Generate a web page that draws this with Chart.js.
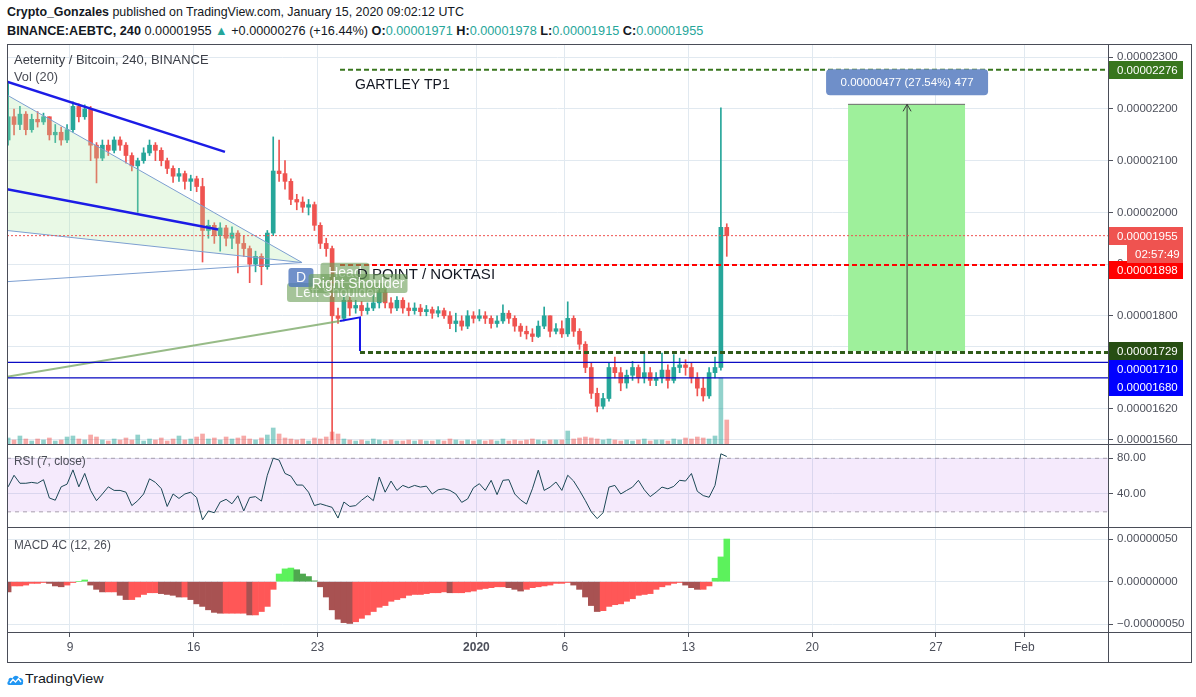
<!DOCTYPE html>
<html><head><meta charset="utf-8">
<script src="https://cdn.jsdelivr.net/npm/chart.js@4.4.1/dist/chart.umd.min.js"></script>
<style>
html,body{margin:0;padding:0;background:#fff;}
body{width:1196px;height:697px;position:relative;overflow:hidden;font-family:"Liberation Sans",Arial,sans-serif;color:#131722;}
.t{position:absolute;white-space:nowrap;transform-origin:0 50%;z-index:6;}
canvas{position:absolute;}
.ln{position:absolute;background:#4a4d58;z-index:5;}
.teal{color:#26a69a;}
</style></head><body>
<div class="t" id="h1" style="left:7px;top:4px;font-size:13px;"><b>Crypto_Gonzales</b> published on TradingView.com, January 15, 2020 09:02:12 UTC</div>
<div class="t" id="h2" style="left:7px;top:23px;font-size:13px;"><b>BINANCE:AEBTC, 240</b> 0.00001955 <span class="teal">▲</span> +0.00000276 (+16.44%) <b>O:</b><span class="teal">0.00001971</span> <b>H:</b><span class="teal">0.00001978</span> <b>L:</b><span class="teal">0.00001915</span> <b>C:</b><span class="teal">0.00001955</span></div>
<canvas id="cPrice" width="1185" height="400" style="left:7px;top:44px"></canvas>
<canvas id="cRsi" width="1185" height="83" style="left:7px;top:444px"></canvas>
<canvas id="cMacd" width="1185" height="135" style="left:7px;top:527px"></canvas>
<div class="t" id="lg1" style="left:14px;top:53px;font-size:12.5px;color:#3b3e47;">Aeternity / Bitcoin, 240, BINANCE</div>
<div class="t" id="lg2" style="left:14px;top:70px;font-size:12.5px;color:#4a4d56;">Vol (20)</div>
<div class="t" id="lg3" style="left:14px;top:454px;font-size:12.5px;color:#4a4d56;">RSI (7, close)</div>
<div class="t" id="lg4" style="left:14px;top:538px;font-size:12.5px;color:#4a4d56;">MACD 4C (12, 26)</div>
<div class="ln" style="left:7px;top:44px;width:1185px;height:1px"></div>
<div class="ln" style="left:7px;top:444px;width:1185px;height:1px"></div>
<div class="ln" style="left:7px;top:527px;width:1185px;height:1px"></div>
<div class="ln" style="left:7px;top:632px;width:1185px;height:1px"></div>
<div class="ln" style="left:7px;top:662px;width:1185px;height:1px"></div>
<div class="ln" style="left:7px;top:44px;width:1px;height:619px"></div>
<div class="ln" style="left:1108px;top:44px;width:1px;height:619px"></div>
<div class="ln" style="left:1191px;top:44px;width:1px;height:619px"></div>
<svg width="17" height="15" viewBox="0 0 17 15" style="position:absolute;left:7px;top:671px">
<path d="M2 14 C0 14 0 11 1.5 10 C1 7 4 6 5.5 7.5 C6.5 4 11 4 12 7 C15 6.5 17 9 16 11.5 C16.5 13 15.5 14 14 14 Z" fill="#2196f3"/>
<polyline points="3,12 6,8.5 8.5,11 11.5,7.5 14,11" fill="none" stroke="#fff" stroke-width="1.3"/>
</svg>
<div class="t" id="ft" style="left:25px;top:671px;font-size:13px;color:#131722;">TradingView</div>
<script>
// ---------- DATA (prices in units of 1e-8 BTC) ----------
const candleStartDay = 4.5;          // days after 2019-12-01 00:00 UTC
const candleStepDays = 8 / 24;       // one candle = 8 hours
const firstOpen = 2140;
const close = [2185,2170,2190,2160,2180,2175,2185,2150,2155,2140,
  2160,2205,2185,2200,2130,2105,2130,2120,2140,2130,
  2110,2090,2100,2115,2130,2120,2100,2085,2070,2075,
  2060,2065,2050,1965,1975,1955,1970,1950,1960,1940,
  1930,1900,1915,1895,1960,2080,2075,2060,2025,2020,
  2010,2015,1975,1940,1930,1800,1795,1830,1815,1820,
  1810,1815,1825,1845,1825,1815,1830,1815,1810,1815,
  1808,1812,1805,1810,1800,1785,1790,1780,1800,1795,
  1800,1795,1785,1790,1805,1795,1780,1770,1765,1760,
  1780,1800,1770,1775,1765,1795,1770,1745,1700,1650,
  1625,1640,1700,1690,1670,1685,1700,1680,1690,1675,
  1680,1695,1675,1700,1705,1700,1680,1660,1645,1690,
  1700,1971,1955];
const high = [2253,2200,2205,2195,2190,2195,2192,2185,2170,2165,
  2170,2214,2210,2208,2205,2135,2140,2140,2146,2146,
  2135,2115,2105,2125,2140,2135,2125,2105,2090,2085,
  2080,2072,2070,2066,1985,1980,1980,1975,1972,1965,
  1955,1935,1925,1920,1965,2146,2140,2100,2065,2035,
  2030,2025,2020,1980,1950,1935,1815,1840,1837,1830,
  1828,1825,1840,1852,1850,1835,1837,1835,1825,1825,
  1822,1820,1817,1818,1815,1808,1805,1800,1810,1808,
  1812,1808,1800,1800,1821,1810,1800,1785,1780,1775,
  1790,1817,1800,1785,1790,1827,1800,1775,1750,1710,
  1660,1650,1710,1720,1700,1695,1712,1705,1728,1700,
  1690,1728,1705,1725,1718,1715,1710,1690,1680,1700,
  1720,2202,1978];
const low = [2130,2150,2160,2150,2155,2165,2170,2140,2135,2130,
  2135,2155,2175,2180,2100,2057,2100,2110,2115,2120,
  2095,2080,2000,2095,2110,2100,2090,2075,2058,2060,
  2045,2042,2040,1904,1950,1940,1925,1935,1930,1883,
  1915,1864,1885,1860,1890,1955,2060,2045,2015,2005,
  2000,1995,1965,1930,1915,1560,1785,1790,1800,1805,
  1800,1803,1810,1815,1815,1805,1810,1805,1800,1803,
  1800,1800,1795,1798,1795,1775,1769,1772,1775,1786,
  1790,1785,1776,1778,1785,1785,1770,1760,1755,1750,
  1758,1775,1759,1765,1758,1760,1760,1735,1690,1640,
  1614,1620,1635,1680,1655,1660,1675,1670,1670,1665,
  1665,1670,1660,1670,1690,1685,1670,1645,1635,1640,
  1680,1695,1915];
const volume = [6,4,8,5,3,5,4,6,3,4,7, 8,5,4,9,7,4,3,5,4,6,
  4,9,3,5,4,6,3,5,8,4,5,7, 10,5,6,4,7,5,6,8,5,4,6,
  9,16,10,6,5,4,5,3,6,5,7, 12,10,5,4,3,4,3,5,4,3,4,3,
  3,4,3,4,3,3,4,3,5,4,3,4,3,4, 3,4,3,5,3,4,3,4,5,4,3,4,4,4,13,5,
  6,7,6,5,4,5,4,3,4,3,4,5,3,4, 4,3,5,4,6,5,7,6,5,8, 66,24];
const rsi = [48,61,52,52,53,52,56,35.5,33,48,
  51,67,48,63,44,32.5,40,48,44,44,
  42,27,32.5,40,57,53,46,26,40,35,
  40,42,36,11,21,19,31,34,29,38,
  21,36,37,32,61,80,78,63,60,50,
  50,42,27,29,27,25,13,31,26,27,
  33,38,32.5,59,42,54.5,44,49.6,47,49.6,
  47.7,48.8,40,44.7,45.8,44,40,30.6,34.4,47,
  51.5,44,55.3,39.3,55.3,56,40,33.3,28.7,45.8,
  66.7,44,47.7,53.4,44,61,54.5,44,32.5,20,
  12.4,19,47.7,49.6,40,44,47.7,55.3,44.7,37,
  42,47.7,45.8,48.5,55.3,54.5,62.9,43,38.2,36.3,
  49.6,85,82];
const macdHist = [-12,-5,-5,-4,-2,-2,-1,-2,-5,-6,
  -4,-1,0,2,-4,-9,-12,-12,-12,-16,
  -21,-21,-18,-15,-13,-13,-14,-15,-16,-18,
  -18,-21,-26,-29,-33,-36,-37,-37,-37,-37,
  -37,-39,-39,-35,-29,-9,9,15,16,14,
  9,6,1,-6,-18,-33,-44,-48,-49,-47,
  -43,-39,-35,-30,-28,-23,-21,-19,-16,-15,
  -15,-14,-13,-13,-12,-13,-13,-13,-12,-11,
  -9,-8,-7,-6,-6,-7,-9,-11,-9,-7,
  -6,-5,-4,-2,-2,-1,-4,-9,-18,-28,
  -35,-34,-29,-27,-26,-23,-20,-16,-15,-14,
  -9,-6,-4,-2,-1,-4,-7,-9,-9,-5,
  4,29,50];
const dayTicks = [8,15,22,31,36,43,50,57,62];
const dayTickLabels = ['9','16','23','2020','6','13','20','27','Feb'];
const priceTicks = [2300,2200,2100,2000,1900,1800,1740,1680,1620,1560];
const rsiTicks = [80,40];
const macdTicks = [50,0,-50];

// ---------- DRAWINGS (data coordinates: [day, price]) ----------
const wedgeLines = [[[4.435,2253],[16.77,2117]], [[4.435,2045],[16.38,1967]]];
const thinLines = [[[4.435,2227],[21.13,1903]], [[4.435,1965],[21.13,1903]], [[4.435,1866],[21.13,1903]]];
const triangleFill = [[4.435,2227],[21.13,1903],[4.435,1965]];
const neckline = [[4.435,1682],[23.28,1790]];
const bluePath = [[23.28,1790],[24.41,1797],[24.41,1732]];
const hLines = [
  {price:2276, from:23.28, color:'#38761d', width:2, dash:[5,3]},
  {price:1898, from:23.28, color:'#ff0000', width:2, dash:[5,3]},
  {price:1729, from:24.41, color:'#2f5a18', width:3, dash:[5,3]},
  {price:1710, from:null, color:'#0b0bc4', width:1.2, dash:[]},
  {price:1680, from:null, color:'#0b0bc4', width:1.2, dash:[]},
  {price:1955, from:null, color:'#ef5350', width:1, dash:[2,2]}
];
const longPos = {from:52.03, to:58.65, arrowDay:55.37, entry:1732, target:2209, label:'0.00000477 (27.54%) 477'};
const texts = [{text:'GARTLEY TP1', day:24.13, price:2238, size:14}];
const dPointText = {text:'D POINT / NOKTASI', day:24.24, price:1872, size:15};
const tagsBack = [
  {text:'Left Shoulder', day:23.11, price:1845, w:100, fill:'rgba(110,160,90,0.62)'},
  {text:'Head', day:23.56, price:1884, w:49, fill:'rgba(110,160,90,0.62)'}
];
const tagsFront = [
  {text:'D', day:21.07, price:1874, w:25, fill:'rgba(80,120,190,0.82)'},
  {text:'Right Shoulder', day:24.3, price:1862.5, w:99, fill:'rgba(110,160,90,0.62)'}
];
const axisTags = [
  {price:2276, bg:'#38761d', dy:0},
  {price:1955, bg:'#ef5350', dy:0},
  {price:1898, bg:'#ff0000', dy:5},
  {price:1729, bg:'#274e13', dy:-1},
  {price:1710, bg:'#0000ff', dy:7},
  {price:1680, bg:'#0000ff', dy:9}
];
const countdown = '02:57:49';

// ---------- SETUP ----------
const X_MIN = 4.435, X_MAX = 66.74;
const GRID = '#e1e9f0', AXIS_TXT = '#4c4f5a', TICKC = '#50535e';
const FONT = '"Liberation Sans", Arial, sans-serif';
const UP = '#26a69a', DN = '#ef5350';
Chart.defaults.font.family = FONT;
const fmt8 = v => (v < 0 ? '\u2212' : '') + (Math.abs(v) / 1e8).toFixed(8);

const days = close.map((_, i) => candleStartDay + i * candleStepDays);
const open = close.map((c, i) => i ? close[i - 1] : firstOpen);
const up = close.map((c, i) => c >= open[i]);

function xScale(show){
  return {type:'linear', min:X_MIN, max:X_MAX, offset:false, bounds:'data',
    afterBuildTicks: s => { s.ticks = dayTicks.map(v => ({value:v})); },
    afterFit: s => { s.height = show ? 30 : 0; s.paddingLeft = 0; s.paddingRight = 0; },
    grid:{color:GRID, offset:false, drawTicks:show, tickLength:5, tickColor:TICKC},
    border:{display:false},
    ticks:{display:show, autoSkip:false, maxRotation:0, padding:3, color:AXIS_TXT,
      font: c => ({family:FONT, size:12, weight: dayTickLabels[c.index] === '2020' ? 'bold' : 'normal'}),
      callback: (v, i) => dayTickLabels[i]}
  };
}
function yScale(min, max, ticks, fmt){
  return {type:'linear', position:'right', min, max, bounds:'data',
    afterBuildTicks: s => { s.ticks = ticks.map(v => ({value:v})); },
    afterFit: s => { s.width = 84; s.paddingTop = 0; s.paddingBottom = 0; },
    grid:{color:GRID, drawTicks:true, tickLength:5, tickColor:TICKC},
    border:{display:false},
    ticks:{padding:4, color:AXIS_TXT, font:{family:FONT, size:11.5}, callback: v => fmt(v)}
  };
}
function stroke(ctx, pts, color, width, dash){
  ctx.beginPath(); ctx.strokeStyle = color; ctx.lineWidth = width; ctx.setLineDash(dash || []);
  pts.forEach((p, i) => i ? ctx.lineTo(p[0], p[1]) : ctx.moveTo(p[0], p[1]));
  ctx.stroke(); ctx.setLineDash([]);
}
function rrect(ctx, x, y, w, h, r){
  ctx.beginPath();
  if (ctx.roundRect) ctx.roundRect(x, y, w, h, r); else ctx.rect(x, y, w, h);
}
function drawTag(ctx, X, Y, t){
  const cx = X(t.day), cy = Y(t.price), h = 19;
  rrect(ctx, cx - t.w / 2, cy - h / 2, t.w, h, 3); ctx.fillStyle = t.fill; ctx.fill();
  ctx.fillStyle = 'rgba(255,255,255,0.95)'; ctx.font = '14px ' + FONT;
  ctx.textAlign = 'center'; ctx.textBaseline = 'middle'; ctx.fillText(t.text, cx, cy + 1);
}

const pricePlugin = {
  id:'priceDrawings',
  afterDatasetsDraw(chart){
    const {ctx, chartArea:a, scales:{x, y}} = chart;
    const X = d => x.getPixelForValue(d), Y = p => y.getPixelForValue(p);
    const P = pt => [X(pt[0]), Y(pt[1])];
    ctx.save();
    ctx.beginPath(); ctx.rect(a.left, a.top, a.right - a.left, a.bottom - a.top); ctx.clip();
    ctx.beginPath(); triangleFill.map(P).forEach((p, i) => i ? ctx.lineTo(p[0], p[1]) : ctx.moveTo(p[0], p[1]));
    ctx.closePath(); ctx.fillStyle = 'rgba(175,235,165,0.28)'; ctx.fill();
    thinLines.forEach(l => stroke(ctx, l.map(P), '#7d9fd1', 1));
    wedgeLines.forEach(l => stroke(ctx, l.map(P), '#1c1ce6', 2.5));
    stroke(ctx, neckline.map(P), 'rgba(125,170,105,0.8)', 2);
    // long position
    const lx0 = X(longPos.from), lx1 = X(longPos.to), ly0 = Y(longPos.target), ly1 = Y(longPos.entry);
    ctx.fillStyle = '#9ef09b'; ctx.fillRect(lx0, ly0, lx1 - lx0, ly1 - ly0);
    stroke(ctx, [[lx0, ly0], [lx1, ly0]], '#6b6b6b', 1);
    const ax = X(longPos.arrowDay);
    stroke(ctx, [[ax, ly1], [ax, ly0]], '#3a3a3a', 1);
    stroke(ctx, [[ax - 4, ly0 + 7], [ax, ly0], [ax + 4, ly0 + 7]], '#3a3a3a', 1);
    hLines.forEach(h => { const yy = Y(h.price); stroke(ctx, [[h.from == null ? a.left : X(h.from), yy], [a.right, yy]], h.color, h.width, h.dash); });
    stroke(ctx, bluePath.map(P), '#1515e8', 2);
    rrect(ctx, ax - 81, ly0 - 35, 162, 26, 4); ctx.fillStyle = '#6f8fc9'; ctx.fill();
    ctx.fillStyle = '#fff'; ctx.font = '11.5px ' + FONT; ctx.textAlign = 'center'; ctx.textBaseline = 'middle';
    ctx.fillText(longPos.label, ax, ly0 - 21.5);
    ctx.textAlign = 'left'; ctx.textBaseline = 'alphabetic'; ctx.fillStyle = '#131722';
    texts.forEach(t => { ctx.font = t.size + 'px ' + FONT; ctx.fillText(t.text, X(t.day), Y(t.price)); });
    tagsBack.forEach(t => drawTag(ctx, X, Y, t));
    ctx.textAlign = 'left'; ctx.textBaseline = 'alphabetic'; ctx.fillStyle = '#131722';
    ctx.font = dPointText.size + 'px ' + FONT; ctx.fillText(dPointText.text, X(dPointText.day), Y(dPointText.price));
    tagsFront.forEach(t => drawTag(ctx, X, Y, t));
    ctx.restore();
  },
  afterDraw(chart){
    const {ctx, chartArea:a, scales:{y}} = chart;
    ctx.save(); ctx.font = '11.5px ' + FONT; ctx.textBaseline = 'middle'; ctx.textAlign = 'left';
    axisTags.forEach(t => {
      const cy = Math.round(y.getPixelForValue(t.price) + t.dy);
      ctx.fillStyle = t.bg; ctx.fillRect(a.right, cy - 9, 75, 18);
      ctx.fillStyle = '#fff'; ctx.fillText(fmt8(t.price), a.right + 9, cy + 1);
    });
    const cy = Math.round(y.getPixelForValue(close[close.length - 1]));
    ctx.fillStyle = '#ef5350'; ctx.fillRect(a.right + 19, cy + 9, 56, 18);
    ctx.fillStyle = '#fff'; ctx.fillText(countdown, a.right + 27, cy + 19);
    ctx.restore();
  }
};

const baseOpts = {responsive:false, animation:false, events:[], layout:{padding:0},
  plugins:{legend:{display:false}, tooltip:{enabled:false}}};

new Chart(document.getElementById('cPrice'), {
  type:'bar',
  data:{datasets:[
    {data: days.map((d, i) => ({x:d, y:[open[i], close[i]]})), backgroundColor: up.map(u => u ? UP : DN),
      barThickness:4, minBarLength:1, grouped:false, order:0, yAxisID:'y'},
    {data: days.map((d, i) => ({x:d, y:[low[i], high[i]]})), backgroundColor: up.map(u => u ? UP : DN),
      barThickness:1, grouped:false, order:1, yAxisID:'y'},
    {data: days.map((d, i) => ({x:d, y:volume[i]})), backgroundColor: up.map(u => u ? 'rgba(38,166,154,0.5)' : 'rgba(239,83,80,0.5)'),
      barThickness:4, grouped:false, order:2, yAxisID:'v'}
  ]},
  options:{...baseOpts, scales:{
    x: xScale(false),
    y: yScale(1552, 2325.7, priceTicks, fmt8),
    v: {display:false, min:0, max:400}
  }},
  plugins:[pricePlugin]
});

const rsiPlugin = {
  id:'rsiBand',
  beforeDatasetsDraw(chart){
    const {ctx, chartArea:a, scales:{y}} = chart;
    const y80 = y.getPixelForValue(80), y20 = y.getPixelForValue(20);
    ctx.save();
    ctx.fillStyle = 'rgba(155,50,230,0.10)'; ctx.fillRect(a.left, y80, a.right - a.left, y20 - y80);
    stroke(ctx, [[a.left, y80], [a.right, y80]], '#a89fae', 1, [4, 4]);
    stroke(ctx, [[a.left, y20], [a.right, y20]], '#a89fae', 1, [4, 4]);
    ctx.restore();
  }
};
new Chart(document.getElementById('cRsi'), {
  type:'line',
  data:{datasets:[{data: days.map((d, i) => ({x:d, y:rsi[i]})), borderColor:'#1b4755', borderWidth:1, pointRadius:0, tension:0}]},
  options:{...baseOpts, scales:{x: xScale(false), y: yScale(3, 96, rsiTicks, v => v.toFixed(2))}},
  plugins:[rsiPlugin]
});

// MACD 4C colouring: positive rising = bright green, positive falling = dark green,
// negative falling = dark red, negative rising = bright red
const macdColors = macdHist.map((v, i) => {
  const p = i ? macdHist[i - 1] : 0;
  if (v >= 0) return v >= p ? '#5cf25c' : '#4fa84f';
  return v < p ? '#a85252' : '#ff5757';
});
new Chart(document.getElementById('cMacd'), {
  type:'bar',
  data:{datasets:[{data: days.map((d, i) => ({x:d, y:macdHist[i]})), backgroundColor: macdColors,
    barPercentage:1, categoryPercentage:1}]},
  options:{...baseOpts, scales:{x: xScale(true), y: yScale(-59, 64.1, macdTicks, fmt8)}}
});

// ---------- fit header/legend text widths ----------
const fitW = {h1:457, h2:696, lg1:195, lg2:44, lg3:72, lg4:97, ft:79};
function fitAll(){
  for (const id in fitW){ const el = document.getElementById(id); el.style.transform = 'scaleX(' + (fitW[id] / el.offsetWidth) + ')'; }
}
fitAll();
if (document.fonts && document.fonts.ready) document.fonts.ready.then(fitAll);
</script>
</body></html>
